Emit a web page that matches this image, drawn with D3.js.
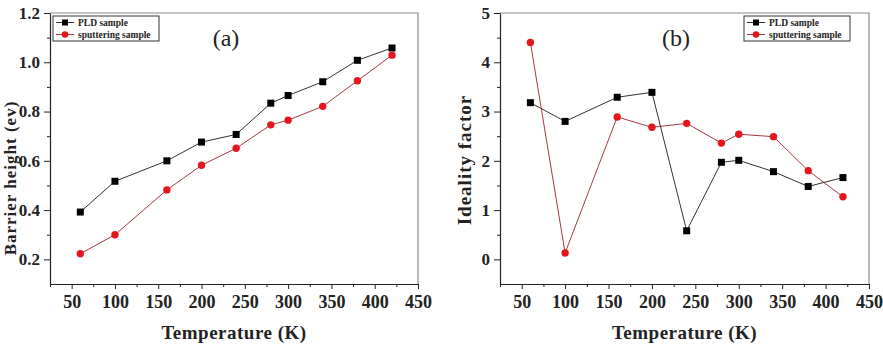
<!DOCTYPE html>
<html>
<head>
<meta charset="utf-8">
<script src="https://cdn.jsdelivr.net/npm/d3@7"></script>
<style>
  body { margin: 0; background: #fff; }
  svg text { font-family: "Liberation Serif", "DejaVu Serif", "Times New Roman", serif !important; }
</style>
</head>
<body>
<div id="chart"></div>
<script>
// temperatures (K)
var temps = [60, 100, 160, 200, 240, 280, 300, 340, 380, 420];

// panel (a) barrier height (ev)
var pldBarrier = [0.392, 0.517, 0.60, 0.676, 0.707, 0.834, 0.865, 0.921, 1.008, 1.058];
var sputBarrier = [0.223, 0.30, 0.482, 0.582, 0.651, 0.746, 0.765, 0.821, 0.925, 1.029];

// panel (b) ideality factor
var pldIdeality = [3.18, 2.80, 3.29, 3.39, 0.58, 1.97, 2.01, 1.78, 1.48, 1.66];
var sputIdeality = [4.40, 0.13, 2.89, 2.68, 2.76, 2.36, 2.54, 2.49, 1.80, 1.27];

var xTicks = [50, 100, 150, 200, 250, 300, 350, 400, 450];
var barrierTicks = [0.2, 0.4, 0.6, 0.8, 1.0, 1.2];
var idealityTicks = [0, 1, 2, 3, 4, 5];
var seriesNames = ["PLD sample", "sputtering sample"];

var svg = d3.select("#chart")
    .append("svg")
    .attr("width", 883)
    .attr("height", 348);

var red = "#e3161f";
var serif = "'Liberation Serif', 'DejaVu Serif', serif";

function drawPanel(p) {
    var g = svg.append("g")
        .attr("transform", `translate(${p.left}, ${p.top})`);

    var x = d3.scaleLinear().domain([25, 450]).range([0, p.width]);
    var y = d3.scaleLinear().domain(p.yDomain).range([p.height, 0]);

    // top + right frame, grey
    g.append("path")
        .attr("d", `M0,0H${p.width}V${p.height}`)
        .attr("fill", "none")
        .attr("stroke", "#8a8a8a")
        .attr("stroke-width", 1.2);

    // minor ticks
    var xMinor = d3.range(25, 450, 50);
    g.append("g")
        .attr("transform", `translate(0, ${p.height})`)
        .call(d3.axisBottom(x).tickValues(xMinor).tickSize(3).tickFormat(""))
        .call(a => a.select(".domain").remove());
    g.append("g")
        .call(d3.axisLeft(y).tickValues(p.yMinor).tickSize(3).tickFormat(""))
        .call(a => a.select(".domain").remove());

    var bottom = g.append("g")
        .attr("transform", `translate(0, ${p.height})`)
        .call(d3.axisBottom(x).tickValues(xTicks).tickSize(5).tickSizeOuter(0).tickPadding(6));
    bottom.attr("font-family", null);
    bottom.selectAll("text")
        .style("font-family", serif)
        .attr("font-size", 18).attr("font-weight", "bold").attr("fill", "#222");

    var left = g.append("g")
        .call(d3.axisLeft(y).tickValues(p.yTicks).tickSize(6).tickSizeOuter(0).tickFormat(p.fmt).tickPadding(4));
    left.attr("font-family", null);
    left.selectAll("text")
        .style("font-family", serif)
        .attr("font-size", 17).attr("font-weight", "bold").attr("fill", "#222");

    g.selectAll(".domain").attr("stroke", "#222").attr("stroke-width", 1.2);
    g.selectAll(".tick line").attr("stroke", "#222");

    var line = d3.line()
        .x((d, i) => x(temps[i]))
        .y(d => y(d));

    // sputtering
    g.append("path")
        .datum(p.sput)
        .attr("d", line)
        .attr("fill", "none")
        .attr("stroke", "#a8383c")
        .attr("stroke-width", 1);

    // PLD
    g.append("path")
        .datum(p.pld)
        .attr("d", line)
        .attr("fill", "none")
        .attr("stroke", "#333")
        .attr("stroke-width", 1);

    g.selectAll(".sq")
        .data(p.pld)
        .enter()
        .append("rect")
        .attr("x", (d, i) => x(temps[i]) - 3.5)
        .attr("y", d => y(d) - 3.5)
        .attr("width", 7)
        .attr("height", 7)
        .attr("fill", "#000");

    g.selectAll(".dot")
        .data(p.sput)
        .enter()
        .append("circle")
        .attr("cx", (d, i) => x(temps[i]))
        .attr("cy", d => y(d))
        .attr("r", 3.7)
        .attr("fill", red);

    // panel letter
    g.append("text")
        .attr("x", p.letterX)
        .attr("y", 33)
        .attr("text-anchor", "middle")
        .attr("font-size", 24)
        .attr("fill", "#222")
        .text(p.letter);

    // legend
    var lg = g.append("g")
        .attr("transform", `translate(${p.legX}, 3)`);
    lg.append("rect")
        .attr("width", 106)
        .attr("height", 25)
        .attr("fill", "#fff")
        .attr("stroke", "#333")
        .attr("stroke-width", 1);
    seriesNames.forEach(function(name, i) {
        var ly = 6.5 + i * 12;
        var c = i == 0 ? "#000" : red;
        lg.append("line")
            .attr("x1", 3).attr("x2", 21)
            .attr("y1", ly).attr("y2", ly)
            .attr("stroke", i == 0 ? "#333" : "#a8383c");
        if (i == 0) {
            lg.append("rect").attr("x", 9).attr("y", ly - 3).attr("width", 6).attr("height", 6).attr("fill", c);
        } else {
            lg.append("circle").attr("cx", 12).attr("cy", ly).attr("r", 3.3).attr("fill", c);
        }
        lg.append("text")
            .attr("x", 25)
            .attr("y", ly + 3)
            .attr("font-size", 9.5)
            .attr("font-weight", "bold")
            .attr("fill", "#222")
            .text(name);
    });

    // axis titles
    g.append("text")
        .attr("x", p.width / 2)
        .attr("y", p.height + 55)
        .attr("text-anchor", "middle")
        .attr("font-size", 19)
        .attr("font-weight", "bold")
        .attr("letter-spacing", 0.5)
        .attr("fill", "#222")
        .text("Temperature (K)");

    g.append("text")
        .attr("transform", `translate(${p.yTitleX}, ${p.yTitleY}) rotate(-90)`)
        .attr("text-anchor", "middle")
        .attr("font-size", p.titleSize)
        .attr("font-weight", "bold")
        .attr("letter-spacing", p.titleSpacing)
        .attr("fill", "#222")
        .text(p.yTitle);
}

drawPanel({
    left: 50, top: 13, width: 368, height: 271,
    yDomain: [0.1, 1.2], yTicks: barrierTicks, yMinor: [0.3, 0.5, 0.7, 0.9, 1.1],
    fmt: d3.format(".1f"),
    pld: pldBarrier, sput: sputBarrier,
    letter: "(a)", letterX: 176, legX: 3,
    yTitle: "Barrier height (ev)", yTitleX: -34, yTitleY: 165, titleSize: 17, titleSpacing: 1
});

drawPanel({
    left: 500, top: 13, width: 369, height: 271,
    yDomain: [-0.5, 5], yTicks: idealityTicks, yMinor: [0.5, 1.5, 2.5, 3.5, 4.5],
    fmt: d3.format("d"),
    pld: pldIdeality, sput: sputIdeality,
    letter: "(b)", letterX: 176, legX: 244,
    yTitle: "Ideality factor", yTitleX: -29, yTitleY: 147, titleSize: 19, titleSpacing: 1
});
</script>
</body>
</html>
